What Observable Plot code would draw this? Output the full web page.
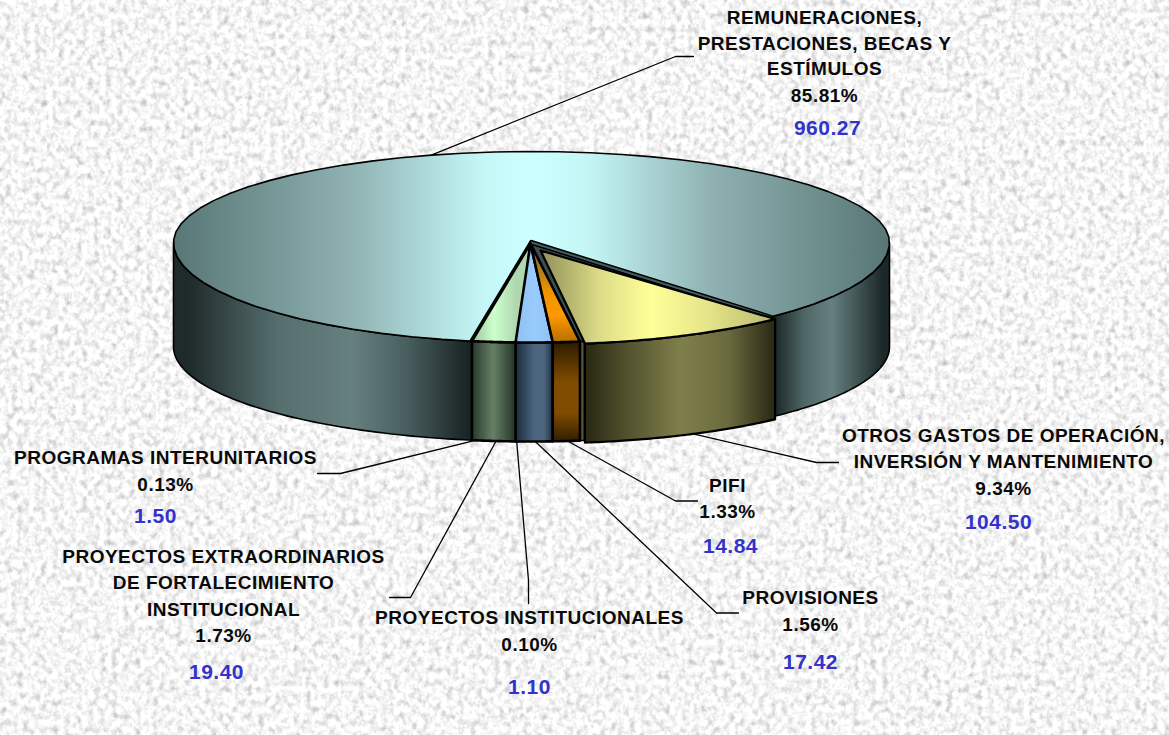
<!DOCTYPE html>
<html><head><meta charset="utf-8">
<script src="https://cdn.jsdelivr.net/npm/d3@7"></script>
<script src="https://cdn.jsdelivr.net/npm/@observablehq/plot@0.6"></script>
<style>html,body{margin:0;padding:0;background:#e9e9e9;overflow:hidden}svg{display:block}
g[aria-label="text"] text{letter-spacing:.5px}</style>
</head><body><div id="chart"></div>
<script>
// ---- data ----
const names = [
  "OTROS GASTOS DE OPERACIÓN,\nINVERSIÓN Y MANTENIMIENTO",
  "PIFI",
  "PROVISIONES",
  "PROYECTOS INSTITUCIONALES",
  "PROYECTOS EXTRAORDINARIOS\nDE FORTALECIMIENTO\nINSTITUCIONAL",
  "PROGRAMAS INTERUNITARIOS",
  "REMUNERACIONES,\nPRESTACIONES, BECAS Y\nESTÍMULOS"
];
const percents = ["9.34%","1.33%","1.56%","0.10%","1.73%","0.13%","85.81%"];
const amounts = [104.50,14.84,17.42,1.10,19.40,1.50,960.27];

// ---- pie geometry ----
const W = 1169, H = 735;
const cx = 531, cy = 242, rx = 358, ryTop = 91, ryBottom = 100;
const startAngle = 48.2;
const rad = d => d * Math.PI / 180;
const total = d3.sum(amounts);
let acc = startAngle;
const slices = amounts.map((v, i) => {
  const a0 = acc; acc += v / total * 360;
  return {i, a0, a1: acc, mid: (a0 + acc) / 2};
});
const ex = a => cx + rx * Math.cos(rad(a));
const ey = a => { const s = Math.sin(rad(a)); return cy + (s > 0 ? ryBottom : ryTop) * s; };
const depth = a => 104 - 5 * Math.abs(Math.sin(rad(a)));
const sweep = (a0, a1) => d3.range(0, 61).map(k => a0 + (a1 - a0) * k / 60);
const shift = (pts, dx, dy) => pts.map(p => ({x: p.x + dx, y: p.y + dy}));
const rim = (a0, a1) => sweep(a0, a1).map(a => ({x: ex(a), y: ey(a)}));
const wedge = (a0, a1, apex = {x: cx - 1, y: cy + 1}) => [apex, ...rim(a0, a1), apex];
const wall = (a0, a1) => {
  const up = rim(a0, a1), down = sweep(a1, a0).map(a => ({x: ex(a), y: ey(a) + depth(a)}));
  return [...up, ...down, up[0]];
};
const poly = (pts, fill, strokeWidth = 1.6) =>
  Plot.line(pts, {x: "x", y: "y", fill, stroke: "#000", strokeWidth, strokeLinejoin: "round"});

// ---- gradients ----
function grad(id, stops, x1, x2, y1 = 0, y2 = 0) {
  return {id, stops, x1, x2, y1, y2};
}
const grads = [
  grad("bigTop", [[0,"#587676"],[.25,"#90b2b2"],[.43,"#c4f6f6"],[.5,"#ccffff"],[.58,"#c4f6f6"],[.75,"#90b2b2"],[1,"#587676"]], 173, 888),
  grad("bigL", [[0,"#1f2a2a"],[.05,"#1f2a2a"],[.35,"#566e6e"],[.6,"#667f7f"],[.78,"#4a6060"],[1,"#182222"]], 173, 470),
  grad("bigR", [[0,"#1c2828"],[.25,"#4f6666"],[.5,"#667f7f"],[.75,"#3d5050"],[.95,"#1c2828"],[1,"#1c2828"]], 775, 888),
  grad("yelTop", [[0,"#8f8f58"],[.25,"#dcdc88"],[.47,"#ffff99"],[.7,"#e6e68a"],[1,"#b8b870"]], 540, 775),
  grad("yelSide", [[0,"#262613"],[.2,"#4d4d2b"],[.5,"#7f7f4c"],[.75,"#6a6a3e"],[1,"#262613"]], 583, 776),
  grad("grnTop", [[0,"#9ec49e"],[.5,"#ccffcc"],[1,"#b0d8b0"]], 472, 515),
  grad("grnSide", [[0,"#26362a"],[.5,"#668066"],[1,"#26362a"]], 471, 514),
  grad("bluTop", [[0,"#8fbfee"],[.5,"#99ccff"],[1,"#8fbfee"]], 515, 553),
  grad("bluSide", [[0,"#1a2a3a"],[.5,"#4d6680"],[.75,"#4d6680"],[1,"#1a2a3a"]], 515, 553),
  grad("orgTop", [[0,"#7a6a30"],[.45,"#f09400"],[.7,"#ff9900"],[1,"#b56e00"]], 0, 0, 250, 342),
  grad("orgSide", [[0,"#2e1c00"],[.4,"#804d00"],[.7,"#804d00"],[1,"#2e1c00"]], 0, 0, 342, 442)
];
const defsMark = () => {
  const g = d3.create("svg:g");
  const defs = g.append("defs");
  for (const d of grads) {
    const lg = defs.append("linearGradient").attr("id", d.id).attr("gradientUnits", "userSpaceOnUse")
      .attr("x1", d.x1).attr("x2", d.x2).attr("y1", d.y1).attr("y2", d.y2);
    for (const [o, c] of d.stops) lg.append("stop").attr("offset", o).attr("stop-color", c);
  }
  const f = defs.append("filter").attr("id", "stone").attr("x", 0).attr("y", 0).attr("width", "100%").attr("height", "100%")
    .attr("color-interpolation-filters", "sRGB");
  f.append("feTurbulence").attr("type", "fractalNoise").attr("baseFrequency", "0.17 0.15").attr("numOctaves", 3).attr("seed", 7).attr("result", "n");
  f.append("feColorMatrix").attr("type", "matrix")
    .attr("values", "0.32 0.32 0 0 0.64  0.32 0.32 0 0 0.64  0.32 0.32 0 0 0.64  0 0 0 0 1");
  g.append("rect").attr("width", W).attr("height", H).attr("fill", "#e9e9e9").attr("filter", "url(#stone)");
  return g.node();
};

// ---- label layout ----
const labelLayout = [
  {x: 1003, ys: [435, 461, 488], vx: 998, vy: 522, elbow: [[816,462],[838,462]]},
  {x: 727, ys: [485, 511], vx: 730, vy: 546, elbow: [[675,500.5],[697,500.5]]},
  {x: 810, ys: [597, 624], vx: 810, vy: 662, elbow: [[716,612.5],[738,612.5]]},
  {x: 529, ys: [617, 644], vx: 529, vy: 687, elbow: [[528,580],[528,603]]},
  {x: 223, ys: [556, 582, 609, 635], vx: 216, vy: 672, elbow: [[410,597],[389,597]]},
  {x: 165, ys: [457, 484], vx: 155, vy: 516, elbow: [[340,473],[317,473]]},
  {x: 824, ys: [17, 43, 68, 95], vx: 827, vy: 128, elbow: [[675,56],[693,56]]}
];
const blackLines = [], blueLines = [];
names.forEach((n, i) => {
  const L = labelLayout[i];
  [...n.split("\n"), percents[i]].forEach((t, k) => blackLines.push({t, x: L.x, y: L.ys[k]}));
  blueLines.push({t: amounts[i].toFixed(2), x: L.vx, y: L.vy});
});
const leaders = slices.map(s => {
  const onTop = s.i === 6;
  const sa = {x: ex(s.mid) + (s.i === 0 ? 5 : 0), y: ey(s.mid) + (onTop ? 0 : depth(s.mid))};
  return [sa, ...labelLayout[s.i].elbow.map(([x, y]) => ({x, y}))];
});

const [yel, pifi, prov, inst, extra, inter, big] = slices;
const fontFamily = "'Liberation Sans', Arial, sans-serif";

const plot = Plot.plot({
  width: W, height: H, margin: 0,
  x: {domain: [0, W], range: [0, W], axis: null},
  y: {domain: [0, H], range: [0, H], axis: null},
  style: {background: "transparent", fontFamily},
  marks: [
    defsMark,
    // leaders first, they start under the pie
    ...leaders.map(pts => Plot.line(pts, {x: "x", y: "y", stroke: "#000", strokeWidth: 1.3})),
    // large slice walls and top
    poly(wall(inter.a1 + 0.3, 180), "url(#bigL)"),
    poly(wall(0, yel.a0 + 0.3), "url(#bigR)"),
    poly(wedge(big.a0, big.a1), "url(#bigTop)"),
    // dark hollow behind the small slices and cut faces along the large slice
    poly(wedge(yel.a0, inter.a1 + 0.3), "#3c5050", 1.6),
    ...[big.a0 + 0.3, yel.a0].map(a => Plot.line([{x: cx, y: cy}, {x: ex(a), y: ey(a)}], {x: "x", y: "y", stroke: "#000", strokeWidth: 5})),
    ...[big.a0 + 0.3, yel.a0].map(a => Plot.line([{x: cx, y: cy}, {x: ex(a), y: ey(a)}], {x: "x", y: "y", stroke: "#465c5c", strokeWidth: 2})),
    // small slices, walls then tops
    poly(wall(extra.a0 - 0.4, inter.a1 + 0.3), "url(#grnSide)", 2.6),
    poly(wall(prov.a0, inst.a1), "url(#bluSide)", 2.6),
    poly(wall(pifi.a0 - 0.3, pifi.a0 + 0.5), "#56563a", 1.4),
    poly(wall(pifi.a0 + 0.4, pifi.a1), "url(#orgSide)", 2.6),
    poly(wedge(extra.a0 - 0.4, inter.a1 + 0.3), "url(#grnTop)", 2.6),
    poly(wedge(prov.a0, inst.a1), "url(#bluTop)", 2.6),
    poly(wedge(pifi.a0 + 0.4, pifi.a1), "url(#orgTop)", 2.6),
    // exploded yellow slice
    poly(shift(wall(yel.a0, yel.a1 + 0.4), 5, 2), "url(#yelSide)", 2.2),
    poly([{x: 540, y: 250}, ...shift(rim(yel.a0, yel.a1 + 0.4), 5, 2), {x: 540, y: 250}], "url(#yelTop)", 2.2),
    // labels
    Plot.text(blackLines, {x: "x", y: "y", text: "t", fill: "#0a0a0a", fontSize: 19, fontWeight: "bold", fontFamily, textAnchor: "middle", lineAnchor: "middle"}),
    Plot.text(blueLines, {x: "x", y: "y", text: "t", fill: "#3333cc", fontSize: 21, fontWeight: "bold", fontFamily, textAnchor: "middle", lineAnchor: "middle"})
  ]
});
document.getElementById("chart").appendChild(plot);
</script></body></html>
